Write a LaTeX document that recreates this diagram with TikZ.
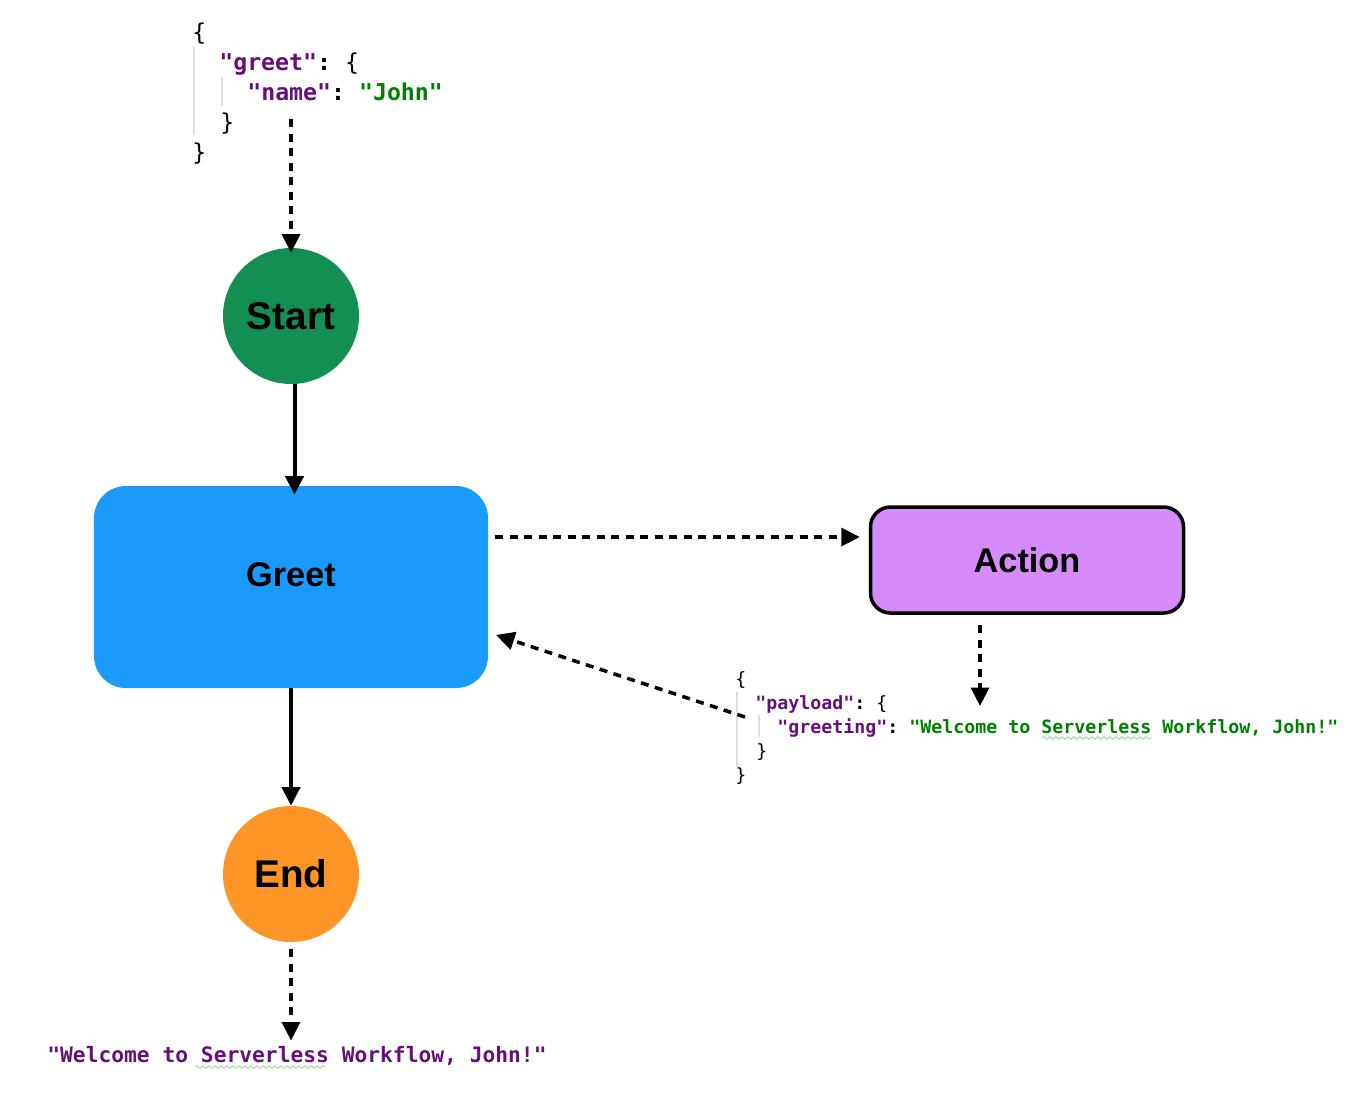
\documentclass[tikz,border=0pt]{standalone}
\usepackage{fontspec}
\setmainfont{Liberation Sans}
\setmonofont{DejaVu Sans Mono}
\usetikzlibrary {arrows.meta, positioning}
\usetikzlibrary {decorations.pathmorphing}
\definecolor{startgreen}{RGB}{20,143,83}
\definecolor{greetblue}{RGB}{26,155,252}
\definecolor{actionviolet}{RGB}{213,139,249}
\definecolor{endorange}{RGB}{255,149,38}
\definecolor{jsonkey}{RGB}{102,14,122}
\definecolor{jsonstring}{RGB}{0,128,0}
\definecolor{guidegray}{RGB}{222,222,222}
\definecolor{typogreen}{RGB}{170,215,170}
\newcommand{\jkey}[1]{\textcolor{jsonkey}{"#1"}}
\newcommand{\jstr}[1]{\textcolor{jsonstring}{"#1"}}
\newcommand{\jopen}{{\mdseries\{}}
\newcommand{\jclose}{{\mdseries\}}}
\tikzset{
    >={Triangle[length=3.7mm, width=3.6mm]},
    flow/.style={->, line width=0.8mm},
    dataflow/.style={->, line width=0.7mm, dash pattern=on 1.6mm off 1.3mm},
    statecircle/.style={circle, minimum size=27.2mm, inner sep=0pt,
        font=\bfseries\fontsize{22}{26}\selectfont},
    taskfont/.style={font=\bfseries\fontsize{19.5}{23}\selectfont},
    jsonline/.style={anchor=base west, inner sep=0pt,
        font=\ttfamily\bfseries\fontsize{13.2}{16}\selectfont},
    smalljson/.style={jsonline, font=\ttfamily\bfseries\fontsize{10.4}{12}\selectfont},
    outjson/.style={jsonline, font=\ttfamily\bfseries\fontsize{12.1}{14}\selectfont},
    guideline/.style={guidegray, line width=0.3mm},
    typo/.style={typogreen, line width=0.2mm, decorate,
        decoration={snake, amplitude=0.25mm, segment length=1.2mm}}
}
\begin{document}
\begin{tikzpicture}[x=0.2mm, y=-0.2mm]
    \useasboundingbox (0, 0) rectangle (1372, 1092);
    % input
    \node[jsonline] (in1) at (192, 40) {\jopen};
    \node[jsonline] (in2) at (219, 70) {\jkey{greet}: \jopen};
    \node[jsonline] (in3) at (247, 100) {\jkey{name}: \jstr{John}};
    \node[jsonline] (in4) at (220, 130) {\jclose};
    \node[jsonline] (in5) at (192, 160) {\jclose};
    \draw[guideline] (194, 47) -- (194, 135);
    \draw[guideline] (222, 77) -- (222, 106);
    % states
    \node[statecircle, fill=startgreen] (start) at (291, 316) {Start};
    \node[fill=greetblue, minimum width=78.8mm, minimum height=40.4mm,
        rounded corners=6.4mm] (greet) at (291, 587) {};
    \node[taskfont] (greettext) at ([yshift=2.4mm]greet.center) {Greet};
    \node[taskfont, draw, fill=actionviolet, line width=0.7mm,
        minimum width=62.6mm, minimum height=21.2mm,
        rounded corners=4mm] (action) at (1027, 560) {Action};
    \node[statecircle, fill=endorange] (end) at (291, 874) {End};
    % action result
    \node[smalljson] (pay1) at (735, 685) {\jopen};
    \node[smalljson] (pay2) at (755, 709) {\jkey{payload}: \jopen};
    \node[smalljson] (pay3) at (777, 733)
        {\jkey{greeting}: \jstr{Welcome to Serverless Workflow, John!}};
    \node[smalljson] (pay4) at (756, 757) {\jclose};
    \node[smalljson] (pay5) at (735, 781) {\jclose};
    \draw[guideline] (737, 692) -- (737, 768);
    \draw[guideline] (759, 715) -- (759, 737);
    \draw[typo] (1042, 738) -- (1152, 738);
    % output
    \node[outjson] (output) at (47, 1062)
        {\textcolor{jsonkey}{"Welcome to Serverless Workflow, John!"}};
    \draw[typo] (195, 1067) -- (325, 1067);
    % connectors
    \coordinate (inarrow) at (291, 119);
    \coordinate (callout) at (495, 537);
    \coordinate (actout) at (980, 625);
    \coordinate (actin) at (980, 706);
    \coordinate (payout) at (745, 717);
    \coordinate (greetin) at (496, 635);
    \draw[dataflow] (inarrow) -- ([yshift=-1mm]start.north);
    \draw[flow, shorten >=-1.8mm] ([xshift=0.7mm]start.south) -- ([xshift=0.7mm]start.south |- greet.north);
    \draw[dataflow] (callout) -- ([xshift=-1.8mm]callout -| action.west);
    \draw[dataflow] (actout) -- (actin);
    \draw[dataflow] (payout) -- (greetin);
    \draw[flow] (greet.south) -- (end.north);
    \draw[dataflow, shorten <=1.4mm, shorten >=1mm] (end.south) -- (end.south |- output.north);
\end{tikzpicture}
\end{document}
